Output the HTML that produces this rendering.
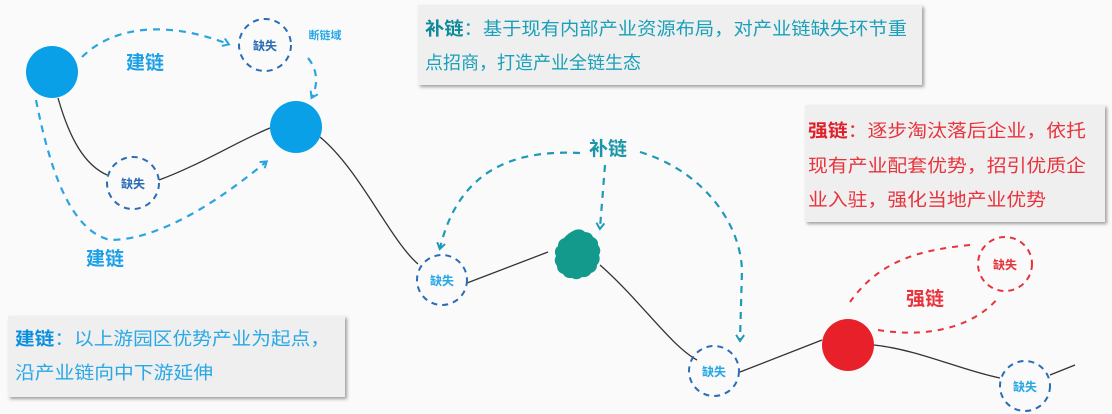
<!DOCTYPE html>
<html><head><meta charset="utf-8"><style>
html,body{margin:0;padding:0;background:#fafafa;}
svg{display:block;font-family:"Liberation Sans","Noto Sans CJK SC",sans-serif;}
</style></head><body>
<svg width="1112" height="414" viewBox="0 0 1112 414" xmlns="http://www.w3.org/2000/svg">
<defs>
<filter id="sh" x="-5%" y="-5%" width="115%" height="130%"><feDropShadow dx="2" dy="2" stdDeviation="1.5" flood-color="#777" flood-opacity="0.7"/></filter>
<marker id="ab" markerWidth="10" markerHeight="10" refX="6" refY="5" orient="auto" markerUnits="userSpaceOnUse"><path d="M1,1 L7,5 L1,9" fill="none" stroke="#2aa5e0" stroke-width="2"/></marker>
<marker id="at" markerWidth="10" markerHeight="10" refX="6" refY="5" orient="auto" markerUnits="userSpaceOnUse"><path d="M1,1 L7,5 L1,9" fill="none" stroke="#1e9ab8" stroke-width="2"/></marker>
</defs>
<rect width="1112" height="414" fill="#fafafa"/>
<!-- boxes -->
<rect x="418" y="5" width="504" height="80" fill="#efefef" filter="url(#sh)"/>
<rect x="805" y="105" width="300" height="117" fill="#efefef" filter="url(#sh)"/>
<rect x="8" y="316" width="337" height="81" fill="#efefef" filter="url(#sh)"/>
<g font-size="18">
<text x="425" y="35" fill="#1aa0b8" textLength="482" lengthAdjust="spacingAndGlyphs"><tspan font-weight="bold" fill="#0f8a9a">补链</tspan>：基于现有内部产业资源布局，对产业链缺失环节重</text>
<text x="425" y="69" fill="#1aa0b8">点招商，打造产业全链生态</text>
<text x="808" y="137" fill="#e8333c" textLength="278" lengthAdjust="spacingAndGlyphs"><tspan font-weight="bold" fill="#e01f2a">强链</tspan>：逐步淘汰落后企业，依托</text>
<text x="808" y="172" fill="#e8333c" textLength="278" lengthAdjust="spacingAndGlyphs">现有产业配套优势，招引优质企</text>
<text x="808" y="206" fill="#e8333c" textLength="238" lengthAdjust="spacingAndGlyphs">业入驻，强化当地产业优势</text>
<text x="15" y="345" fill="#28a8e6" textLength="315" lengthAdjust="spacingAndGlyphs"><tspan font-weight="bold" fill="#0a8fe0">建链</tspan>：以上游园区优势产业为起点，</text>
<text x="15" y="379" fill="#28a8e6" textLength="198" lengthAdjust="spacingAndGlyphs">沿产业链向中下游延伸</text>
</g>
<!-- main line -->
<g fill="none" stroke="#333" stroke-width="1.3">
<path d="M58,98 C70,140 85,165 107,175"/>
<path d="M159,180 C200,165 240,140 270,128"/>
<path d="M320,137 C360,170 390,240 418,264"/>
<path d="M467,283 L548,252"/>
<path d="M600,265 C640,300 670,345 697,360"/>
<path d="M740,372 L822,340"/>
<path d="M874,345 C920,350 960,370 1000,378"/>
<path d="M1050,375 L1075,365"/>
</g>
<!-- dashed arrows blue -->
<g fill="none" stroke="#2aa5e0" stroke-width="2.2" stroke-dasharray="7,6">
<path d="M82,57 C120,20 180,25 228,44" marker-end="url(#ab)"/>
<path d="M308,58 C318,70 318,85 312,97" marker-end="url(#ab)"/>
<path d="M36,100 C50,170 70,230 110,240 C160,240 220,200 266,162" marker-end="url(#ab)"/>
</g>
<!-- teal -->
<g fill="none" stroke="#1e9ab8" stroke-width="2.2" stroke-dasharray="7,6">
<path d="M580,153 C520,150 460,165 440,248" marker-end="url(#at)"/>
<path d="M605,165 L600,228" marker-end="url(#at)"/>
<path d="M640,152 C700,170 740,220 742,270 L740,340" marker-end="url(#at)"/>
</g>
<!-- red -->
<g fill="none" stroke="#e8333c" stroke-width="2" stroke-dasharray="6,6">
<path d="M970,245 C920,250 880,260 850,302"/>
<path d="M878,330 C940,340 980,320 998,298"/>
</g>
<!-- nodes -->
<circle cx="52" cy="72" r="26" fill="#0aa0e8"/>
<circle cx="296" cy="127" r="26" fill="#0aa0e8"/>
<path d="M575,230 q6,-2 10,2 q6,0 8,5 q6,3 5,8 q4,5 1,10 q2,6 -2,10 q0,6 -6,8 q-3,5 -9,4 q-5,4 -10,1 q-6,1 -9,-4 q-6,-2 -6,-8 q-4,-5 -1,-10 q-3,-6 2,-10 q0,-6 6,-8 q4,-5 11,-8z" fill="#139a8c"/>
<circle cx="848" cy="345" r="26" fill="#e8202a"/>
<g fill="none" stroke="#2b6cb5" stroke-width="2" stroke-dasharray="6,5">
<circle cx="265" cy="45" r="26"/>
<circle cx="133" cy="183" r="26"/>
<circle cx="442" cy="280" r="25"/>
<circle cx="714" cy="371" r="25"/>
<circle cx="1025" cy="386" r="25"/>
</g>
<circle cx="1005" cy="264" r="27" fill="none" stroke="#e8333c" stroke-width="2" stroke-dasharray="6,5"/>
<g font-size="12" font-weight="bold" text-anchor="middle">
<text x="265" y="50" fill="#2b6cb5">缺失</text>
<text x="133" y="188" fill="#2b6cb5">缺失</text>
<text x="442" y="285" fill="#28a8e6">缺失</text>
<text x="714" y="376" fill="#28a8e6">缺失</text>
<text x="1025" y="391" fill="#28a8e6">缺失</text>
<text x="1005" y="269" fill="#e8333c">缺失</text>
<text x="325" y="39" fill="#28a8e6" font-size="11">断链域</text>
</g>
<g font-size="19" font-weight="bold" text-anchor="middle">
<text x="145" y="69" fill="#1aa0e6">建链</text>
<text x="105" y="265" fill="#1aa0e6">建链</text>
<text x="608" y="155" fill="#1a96a8">补链</text>
<text x="925" y="305" fill="#e8333c">强链</text>
</g>
</svg>
</body></html>
